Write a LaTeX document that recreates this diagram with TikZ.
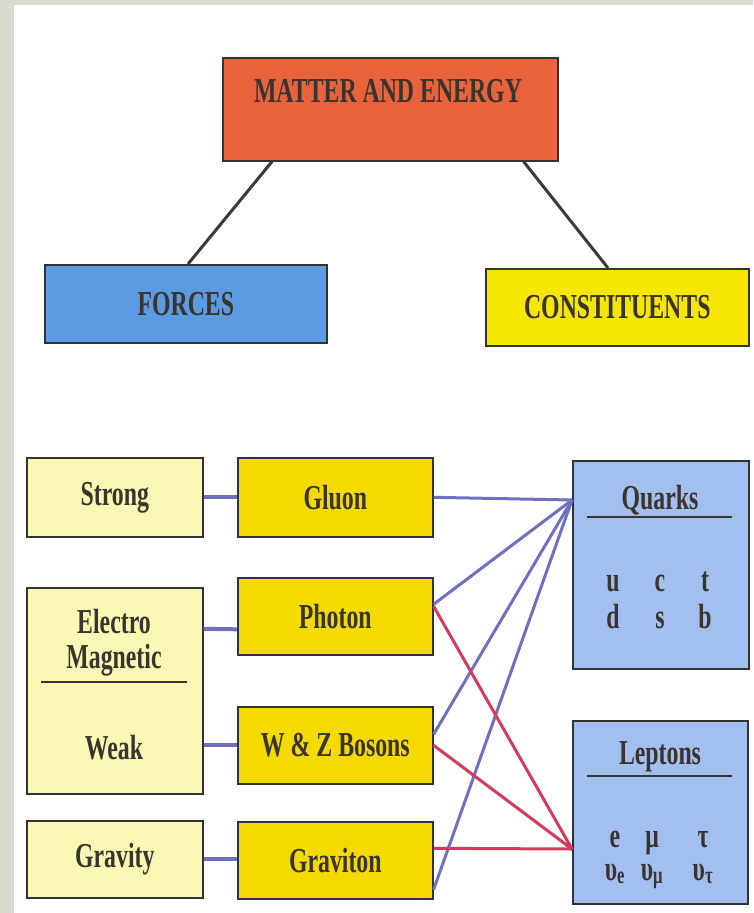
\documentclass[tikz,border=0pt]{standalone}
\usepackage{fontspec}
\setmainfont{Liberation Serif}[FakeStretch=0.68]
\definecolor{bgtex}{HTML}{D6DAD0}
\definecolor{matter}{HTML}{E8633C}
\definecolor{forces}{HTML}{5A9BE2}
\definecolor{constit}{HTML}{F7E600}
\definecolor{pale}{HTML}{FBF8B6}
\definecolor{gold}{HTML}{F4DA00}
\definecolor{lightblue}{HTML}{A3BFF0}
\definecolor{ink}{HTML}{3A342E}
\definecolor{frame}{HTML}{333333}
\definecolor{linkblue}{HTML}{6E70C0}
\definecolor{linkred}{HTML}{D23C5C}
\definecolor{stemgray}{HTML}{3A3A3A}
\tikzset{
  box/.style={draw=frame, line width=1.6pt, inner sep=0pt, anchor=north west,
    text=ink, align=center, font=\bfseries\fontsize{35}{40}\selectfont},
  lbl/.style={text=ink, inner sep=0pt, font=\bfseries\fontsize{35}{40}\selectfont},
  blink/.style={draw=linkblue, line width=3pt},
  rlink/.style={draw=linkred, line width=3pt},
  stem/.style={draw=stemgray, line width=3pt},
  rule/.style={draw=ink, line width=2pt},
}
\begin{document}
\begin{tikzpicture}[x=1pt,y=-1pt]
  \useasboundingbox (0,0) rectangle (753,913);
  \fill[bgtex] (0,0) rectangle (753,913);
  \fill[white] (14,5) rectangle (753,913);

  % top level
  \node[box, fill=matter, minimum width=335, minimum height=103] (matter) at (222,57) {};
  \node[lbl] (matterlbl) at (388,91) {MATTER AND ENERGY};
  \node[box, fill=forces, minimum width=282, minimum height=78] (forces) at (44,264) {FORCES};
  \node[box, fill=constit, minimum width=263, minimum height=77] (constit) at (485,268) {CONSTITUENTS};
  \draw[stem] ([xshift=50pt]matter.south west) -- ([xshift=144pt]forces.north west);
  \draw[stem] ([xshift=-35pt]matter.south east) -- ([xshift=123pt]constit.north west);

  % forces
  \node[box, fill=pale, minimum width=176, minimum height=79] (strong) at (26,457) {Strong};
  \node[box, fill=pale, minimum width=176, minimum height=206] (em) at (26,587) {};
  \node[lbl] (electro) at (114,622) {Electro};
  \node[lbl] (magnetic) at (114,660) {Magnetic};
  \draw[rule] (41,682) -- (187,682);
  \node[lbl] (weak) at (114,748) {Weak};
  \node[box, fill=pale, minimum width=176, minimum height=77] (gravity) at (26,820) {Gravity};

  % carriers
  \node[box, fill=gold, minimum width=195, minimum height=79] (gluon) at (237,457) {Gluon};
  \node[box, fill=gold, minimum width=195, minimum height=77] (photon) at (237,577) {Photon};
  \node[box, fill=gold, minimum width=195, minimum height=77] (wz) at (237,706) {W \& Z Bosons};
  \node[box, fill=gold, minimum width=195, minimum height=77] (graviton) at (237,821) {Graviton};

  % constituents
  \node[box, fill=lightblue, minimum width=176, minimum height=208] (quarks) at (572,460) {};
  \node[lbl] (quarkslbl) at (660,500) {Quarks};
  \draw[rule] (587,517) -- (732,517);
  \foreach \x/\up/\dn in {613/u/d, 660/c/s, 705/t/b} {
    \node[lbl, anchor=base] (q-\up) at (\x,591) {\up};
    \node[lbl, anchor=base] (q-\dn) at (\x,628) {\dn};
  }
  \node[box, fill=lightblue, minimum width=175, minimum height=183] (leptons) at (572,720) {};
  \node[lbl] (leptonslbl) at (660,757) {Leptons};
  \draw[rule] (587,776) -- (732,776);
  \foreach \x/\fst/\snd/\nm in {615/e/e/e, 652/μ/μ/mu, 703/τ/τ/tau} {
    \node[lbl, anchor=base] (l-\nm) at (\x,847) {\fst};
    \node[lbl, anchor=base] (nu-\nm) at (\x,880) {υ\textsubscript{\snd}};
  }

  % connectors
  \coordinate (qin) at (572,500);
  \coordinate (lin) at (572,849);
  \draw[blink, line width=4pt] (strong.east) -- (strong.east -| gluon.west);
  \draw[blink, line width=4pt] ([yshift=62pt]em.east) -- ([yshift=-13pt]photon.west);
  \draw[blink, line width=4pt] (em.east |- wz.west) -- (wz.west);
  \draw[blink, line width=4pt] (gravity.east) -- (gravity.east -| graviton.west);
  \draw[blink] (gluon.east) -- (qin);
  \draw[blink] ([yshift=12pt]photon.east) -- (qin);
  \draw[blink] ([yshift=11pt]wz.east) -- (qin);
  \draw[blink] ([yshift=10pt]graviton.south east) -- (qin);
  \draw[rlink] ([yshift=10pt]photon.east) -- (lin);
  \draw[rlink] (wz.east) -- (lin);
  \draw[rlink] ([yshift=12pt]graviton.east) -- (lin);
\end{tikzpicture}
\end{document}
